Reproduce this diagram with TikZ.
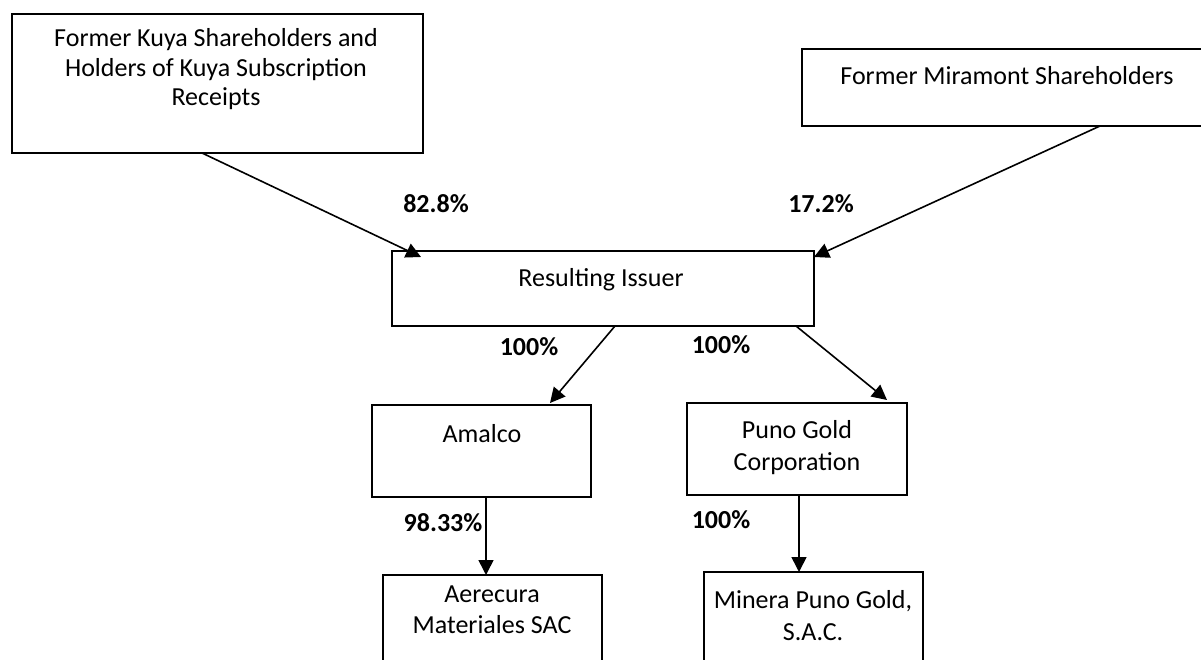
\documentclass[tikz,border=0pt]{standalone}
\usepackage{fontspec}
\setmainfont{Carlito}
\usetikzlibrary{arrows.meta,calc}
\tikzset{
  box/.style={draw=black, line width=1.8pt, rectangle, anchor=north west, inner sep=0pt, outer sep=0pt},
  txt/.style={anchor=base, align=center, inner sep=0pt, font=\fontsize{26}{31.5}\selectfont},
  pct/.style={anchor=base, inner sep=0pt, font=\fontsize{26}{31.5}\selectfont\bfseries},
  arr/.style={draw=black, line width=1.6pt, -{Triangle[length=15pt,width=15pt]}}
}
\begin{document}
\begin{tikzpicture}[x=1pt,y=-1pt]
\useasboundingbox (0,0) rectangle (1201,660);
\fill[white] (0,0) rectangle (1201,660);
\clip (0,0) rectangle (1201,660);
% boxes
\node[box, minimum width=411pt, minimum height=139pt] (kuya) at (12,14) {};
\node[box, minimum width=410pt, minimum height=77pt] (mira) at (802,49) {};
\node[box, minimum width=422pt, minimum height=75pt] (ri) at (392,251) {};
\node[box, minimum width=219pt, minimum height=92pt] (amal) at (372,405) {};
\node[box, minimum width=220pt, minimum height=92pt] (puno) at (687,403) {};
\node[box, minimum width=219pt, minimum height=100pt] (aere) at (383,575) {};
\node[box, minimum width=219pt, minimum height=100pt] (mine) at (704,572) {};
% texts (base anchor = baseline of the last line)
\node[txt, font=\fontsize{26}{29.5}\selectfont] (kuyat) at (216,106) {Former Kuya Shareholders and\\Holders of Kuya Subscription\\Receipts};
\node[txt] (mirat) at (1007,85) {Former Miramont Shareholders};
\node[txt] (rit) at (601,287) {Resulting Issuer};
\node[txt] (amalt) at (482,442) {Amalco};
\node[txt, font=\fontsize{26}{32}\selectfont] (punot) at (797,470) {Puno Gold\\Corporation};
\node[txt, font=\fontsize{26}{31}\selectfont] (aeret) at (492,633) {Aerecura\\Materiales SAC};
\node[txt, font=\fontsize{26}{32}\selectfont] (minet) at (813,640) {Minera Puno Gold,\\S.A.C.};
% percentages
\node[pct] (p1) at (436,213) {82.8\%};
\node[pct] (p2) at (821,213) {17.2\%};
\node[pct] (p3) at (529,355) {100\%};
\node[pct] (p4) at (721,353) {100\%};
\node[pct] (p5) at (443,531) {98.33\%};
\node[pct] (p6) at (721,528) {100\%};
% connectors
\draw[arr] ($(kuya.south west)+(190,0)$) -- ($(ri.north west)+(29,6)$);
\draw[arr] ($(mira.south west)+(298,0)$) -- ($(ri.north east)+(0,6)$);
\draw[arr] ($(ri.south west)+(223,0)$) -- ($(amal.north west)+(178,-2)$);
\draw[arr] ($(ri.south east)+(-18,0)$) -- ($(puno.north west)+(200,-3)$);
\draw[arr] ($(amal.south west)+(114,0)$) -- ($(aere.north west)+(103,0)$);
\draw[arr] ($(puno.south west)+(112,0)$) -- ($(mine.north west)+(95,0)$);
\end{tikzpicture}
\end{document}
